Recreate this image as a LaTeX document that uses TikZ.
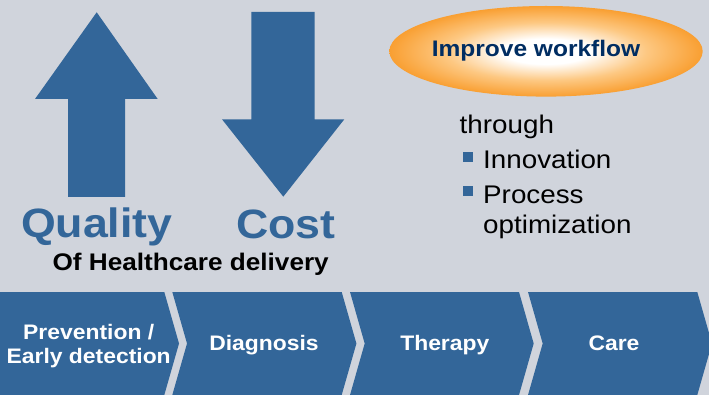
\documentclass[tikz,border=0pt]{standalone}
\usepackage{fontspec}
\setmainfont{Liberation Sans}[FakeStretch=1.09]
\usetikzlibrary{shapes.geometric}
\definecolor{bg}{RGB}{208,212,220}
\definecolor{sblue}{RGB}{51,102,153}
\definecolor{navy}{RGB}{0,45,98}
\definecolor{worange}{RGB}{248,150,32}
\definecolor{lorange}{RGB}{253,200,130}
\pgfdeclareradialshading{wfshade}{\pgfpointorigin}{color(0bp)=(white); color(7bp)=(white); color(16bp)=(lorange); color(27bp)=(worange); color(50bp)=(worange)}
\tikzset{
  shapefill/.style={fill=sblue, draw=none},
  bigword/.style={font=\bfseries\fontsize{41}{44}\selectfont, text=sblue, inner sep=0pt, anchor=base},
  subword/.style={font=\bfseries\fontsize{24}{26}\selectfont, text=black, inner sep=0pt, anchor=base},
  wfword/.style={font=\bfseries\fontsize{22.5}{24}\selectfont, text=navy, inner sep=0pt, anchor=base},
  listword/.style={font=\fontsize{25.5}{28}\selectfont, text=black, inner sep=0pt, anchor=base west},
  bulletsq/.style={rectangle, fill=sblue, minimum size=10pt, inner sep=0pt},
  chevtext/.style={font=\bfseries\fontsize{21}{23.3}\selectfont, text=white, inner sep=0pt, align=center},
}
\begin{document}
\begin{tikzpicture}[x=1pt,y=-1pt]
\useasboundingbox (0,0) rectangle (709,395);
\clip (0,0) rectangle (709,395);
\fill[bg] (0,0) rectangle (709,395);

% arrows
\fill[shapefill] (96.7,12.3) -- (157.7,99) -- (125,99) -- (125,197) -- (68,197) -- (68,99) -- (35,99) -- cycle;
\fill[shapefill] (251.3,12) -- (314.7,12) -- (314.7,119.3) -- (344.3,119.3) -- (283.3,196.7) -- (222,119.3) -- (251.3,119.3) -- cycle;

\node[bigword] (quality) at (96.8,237.5) {Quality};
\node[bigword] (cost) at (286,238.5) {Cost};
\node[subword] (ofhc) at (190.7,270) {Of Healthcare delivery};

% ellipse
\node[ellipse, minimum width=313.4pt, minimum height=90.6pt, inner sep=0pt, shade, shading=wfshade] (wf) at (546,51.3) {};
\node[wfword] (wftext) at (536,56.7) {Improve workflow};

% list
\node[listword] (through) at (459.5,133.3) {through};
\node[bulletsq] (b1) at (468.3,156.7) {};
\node[listword] (innov) at (483,168.3) {Innovation};
\node[bulletsq] (b2) at (468.3,190.7) {};
\node[listword] (proc) at (483,203.3) {Process};
\node[listword] (optim) at (483,234) {optimization};

% chevrons
\fill[shapefill] (0,292) -- (164.3,292) -- (179,343.5) -- (164.3,395) -- (0,395) -- cycle;
\fill[shapefill] (172.3,292) -- (341.7,292) -- (356.4,343.5) -- (341.7,395) -- (172.3,395) -- (187,343.5) -- cycle;
\fill[shapefill] (350,292) -- (519,292) -- (533.7,343.5) -- (519,395) -- (350,395) -- (364.7,343.5) -- cycle;
\fill[shapefill] (528,292) -- (697.3,292) -- (712,343.5) -- (697.3,395) -- (528,395) -- (542.7,343.5) -- cycle;

\node[chevtext] (prev) at (88.7,346.1) {Prevention /\\Early detection};
\node[chevtext, anchor=base] (diag) at (264,350) {Diagnosis};
\node[chevtext, anchor=base] (ther) at (444.8,350) {Therapy};
\node[chevtext, anchor=base] (care) at (614,350) {Care};
\end{tikzpicture}
\end{document}
